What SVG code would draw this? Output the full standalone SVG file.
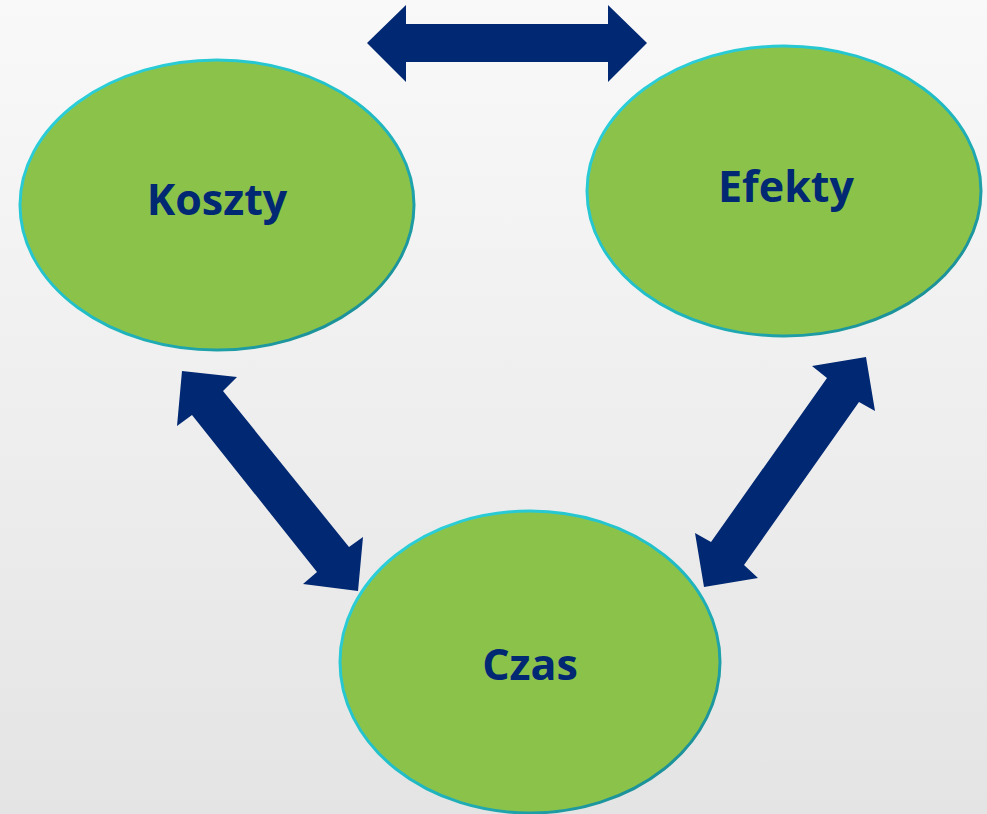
<svg xmlns="http://www.w3.org/2000/svg" width="987" height="814" viewBox="0 0 987 814">
  <defs>
    <linearGradient id="bg" x1="0" y1="0" x2="0" y2="1">
      <stop offset="0" stop-color="#F9F9F9"/>
      <stop offset="1" stop-color="#E4E4E4"/>
    </linearGradient>
    <linearGradient id="rim" x1="0" y1="0" x2="1" y2="1">
      <stop offset="0" stop-color="#2FD3DE"/>
      <stop offset="0.5" stop-color="#22BFC8"/>
      <stop offset="1" stop-color="#1A7F86"/>
    </linearGradient>
    <style>
      .node { fill: #8BC34A; stroke: url(#rim); stroke-width: 3; }
      .label { font-family: "Open Sans", "Liberation Sans", sans-serif; font-weight: bold; font-size: 43px; fill: #012873; text-anchor: middle; }
      .arrow { fill: #012873; }
    </style>
  </defs>
  <rect x="0" y="0" width="987" height="814" fill="url(#bg)"/>
  <g id="node-koszty">
    <ellipse class="node" cx="217" cy="205" rx="197" ry="145"/>
    <text class="label" x="217" y="215">Koszty</text>
  </g>
  <g id="node-efekty">
    <ellipse class="node" cx="784" cy="191" rx="197" ry="145"/>
    <text class="label" x="786" y="202">Efekty</text>
  </g>
  <g id="node-czas">
    <ellipse class="node" cx="530" cy="662" rx="190" ry="151"/>
    <text class="label" x="530" y="680">Czas</text>
  </g>
  <g id="connectors">
    <polygon class="arrow" points="367,43 406,5 406,24 608,24 608,5 647,43 608,82 608,62 406,62 406,82"/>
    <polygon class="arrow" points="182,371 237,377 223,391 349,547 363,537 358,591 303,584 317,572 192,415 177,426"/>
    <polygon class="arrow" points="866,357 875,411 859,402 744,565 758,578 704,587 695,533 711,542 827,378 812,366"/>
  </g>
</svg>
